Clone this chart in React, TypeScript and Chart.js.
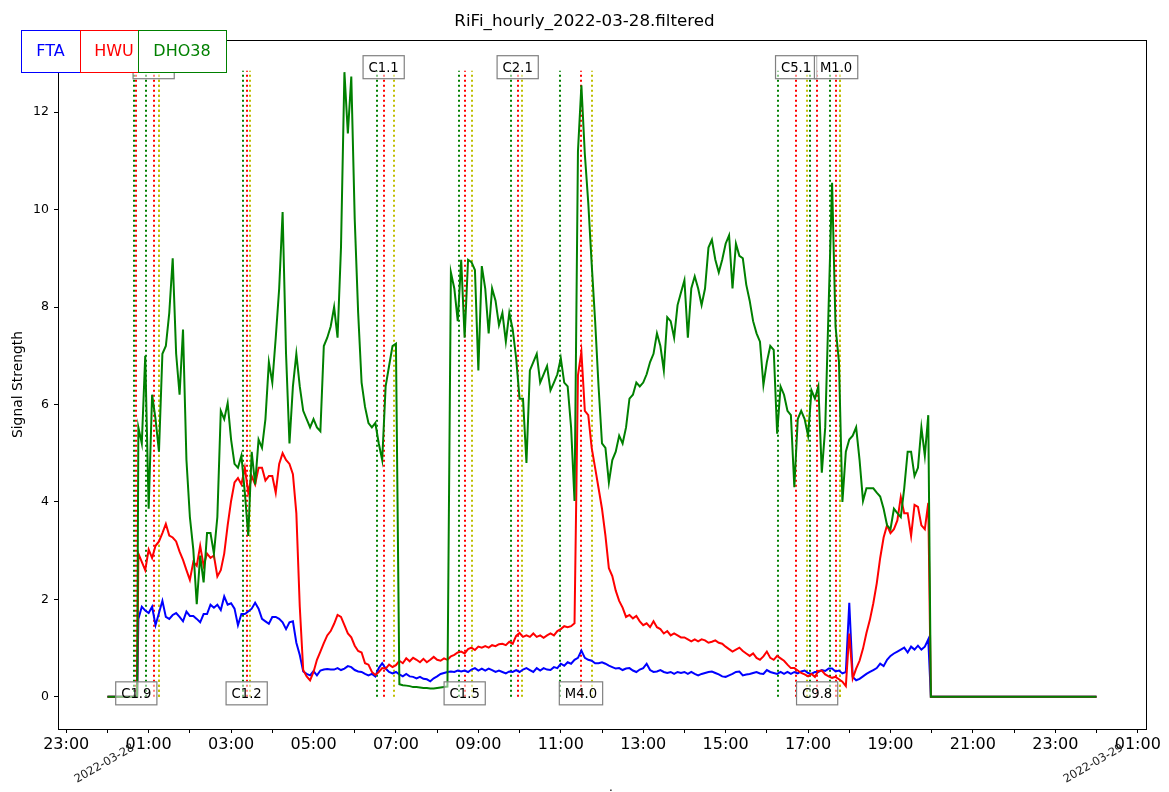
import { useEffect, useRef } from 'react';
import { Chart, registerables } from 'chart.js';

Chart.register(...registerables);

// hours since 2022-03-28 00:00; one reading every 5 minutes from 00:45 to 19:55
const FIRST_READING = 0.75;
const STEP = 5 / 60;
// receivers idle (logged as 0) before the first and after the last reading
const leadIn = [0, 0.72];
const leadOut = [19.98, 24];

const stations = ['DHO38', 'HWU', 'FTA'];
const stationColors = ['#008000', '#ff0000', '#0000ff'];

const dho38 = [
  5.53, 5.2, 7.0, 3.86, 6.2, 5.7, 5.03, 7.04, 7.2, 7.88,
  9.0, 7.04, 6.2, 7.54, 4.86, 3.69, 3.02, 1.9, 2.9, 2.35,
  3.36, 3.36, 2.94, 3.69, 5.87, 5.7, 6.03, 5.28, 4.78, 4.7,
  4.95, 4.19, 3.3, 5.03, 4.36, 5.28, 5.11, 5.7, 6.87, 6.45,
  7.37, 8.38, 9.95, 7.04, 5.2, 6.37, 7.04, 6.37, 5.87, 5.7,
  5.53, 5.7, 5.53, 5.45, 7.2, 7.37, 7.6, 8.0, 7.37, 9.22,
  12.82, 11.56, 12.73, 9.8, 7.88, 6.45, 5.95, 5.62, 5.53, 5.62,
  5.2, 4.86, 6.37, 6.79, 7.2, 7.25, 0.26, 0.24, 0.23, 0.22,
  0.2, 0.2, 0.19, 0.18, 0.18, 0.17, 0.17, 0.18, 0.19, 0.2,
  0.21, 8.71, 8.38, 7.71, 8.97, 7.37, 8.97, 8.92, 8.76, 6.7,
  8.84, 8.38, 7.46, 8.38, 8.13, 7.63, 7.88, 7.29, 7.88, 7.54,
  6.95, 6.12, 6.12, 4.8, 6.7, 6.87, 7.04, 6.45, 6.62, 6.79,
  6.29, 6.45, 6.62, 6.95, 6.45, 6.37, 5.53, 4.02, 11.2, 12.55,
  11.14, 10.14, 8.88, 7.71, 6.37, 5.2, 5.11, 4.4, 4.86, 5.03,
  5.36, 5.2, 5.53, 6.12, 6.2, 6.45, 6.37, 6.45, 6.62, 6.87,
  7.04, 7.46, 7.2, 6.7, 7.79, 7.71, 7.37, 8.04, 8.3, 8.55,
  7.37, 8.38, 8.63, 8.38, 8.04, 8.38, 9.22, 9.38, 8.97, 8.71,
  8.97, 9.3, 9.47, 8.38, 9.3, 9.05, 9.0, 8.46, 8.13, 7.71,
  7.46, 7.29, 6.4, 6.87, 7.2, 7.12, 5.4, 6.37, 6.2, 5.87,
  5.78, 4.3, 5.7, 5.87, 5.7, 5.36, 6.29, 6.12, 6.37, 4.6,
  5.53, 8.04, 10.55, 7.6, 6.87, 4.0, 5.03, 5.28, 5.36, 5.53,
  4.86, 4.02, 4.28, 4.28, 4.28, 4.19, 4.11, 3.86, 3.52, 3.44,
  3.86, 3.77, 3.69, 4.28, 5.03, 5.03, 4.53, 4.7, 5.53, 4.95,
  5.78,
];

const hwu = [
  2.94, 2.77, 2.6, 3.02, 2.85, 3.1, 3.19, 3.36, 3.55, 3.31,
  3.27, 3.19, 2.98, 2.81, 2.6, 2.4, 2.77, 2.69, 3.1, 2.69,
  2.94, 2.85, 2.9, 2.47, 2.6, 2.94, 3.52, 4.02, 4.4, 4.49,
  4.36, 4.7, 4.19, 4.53, 4.36, 4.7, 4.7, 4.44, 4.53, 4.53,
  4.19, 4.78, 5.0, 4.86, 4.78, 4.57, 3.77, 1.85, 0.55, 0.42,
  0.34, 0.51, 0.76, 0.93, 1.1, 1.26, 1.35, 1.5, 1.68, 1.64,
  1.47, 1.3, 1.22, 1.05, 0.94, 0.91, 0.69, 0.66, 0.51, 0.45,
  0.51, 0.59, 0.58, 0.66, 0.61, 0.65, 0.74, 0.69, 0.79, 0.73,
  0.8, 0.76, 0.71, 0.78, 0.71, 0.76, 0.82, 0.76, 0.74, 0.79,
  0.76, 0.83, 0.86, 0.91, 0.93, 0.89, 0.98, 1.01, 0.96, 1.03,
  1.01, 1.04, 1.01, 1.06, 1.04, 1.08, 1.09, 1.06, 1.13, 1.09,
  1.25, 1.31, 1.23, 1.26, 1.23, 1.3, 1.23, 1.26, 1.21, 1.26,
  1.3, 1.26, 1.35, 1.39, 1.45, 1.43, 1.45, 1.51, 6.6, 7.08,
  5.87, 5.78, 5.11, 4.7, 4.28, 3.86, 3.31, 2.64, 2.48, 2.18,
  1.97, 1.83, 1.64, 1.68, 1.61, 1.66, 1.55, 1.47, 1.51, 1.43,
  1.55, 1.43, 1.39, 1.3, 1.35, 1.26, 1.3, 1.26, 1.22, 1.22,
  1.18, 1.14, 1.18, 1.14, 1.18, 1.16, 1.11, 1.13, 1.16, 1.11,
  1.09, 1.03, 0.98, 0.93, 0.97, 1.01, 0.94, 0.89, 0.84, 0.89,
  0.8, 0.76, 0.83, 0.93, 0.8, 0.76, 0.84, 0.79, 0.74, 0.66,
  0.59, 0.59, 0.54, 0.49, 0.46, 0.42, 0.47, 0.41, 0.53, 0.54,
  0.46, 0.42, 0.39, 0.41, 0.36, 0.31, 0.22, 1.3, 0.38, 0.58,
  0.74, 0.99, 1.31, 1.58, 1.92, 2.33, 2.85, 3.27, 3.52, 3.36,
  3.44, 3.62, 4.1, 3.77, 3.77, 3.3, 3.94, 3.9, 3.52, 3.44,
  3.98,
];

const fta = [
  1.6, 1.85, 1.77, 1.72, 1.85, 1.47, 1.72, 1.97, 1.64, 1.6,
  1.68, 1.72, 1.64, 1.55, 1.75, 1.66, 1.66, 1.6, 1.53, 1.7,
  1.7, 1.89, 1.83, 1.89, 1.78, 2.06, 1.89, 1.92, 1.81, 1.47,
  1.7, 1.7, 1.75, 1.81, 1.93, 1.81, 1.6, 1.55, 1.5, 1.64,
  1.64, 1.6, 1.53, 1.39, 1.53, 1.55, 1.11, 0.86, 0.52, 0.47,
  0.44, 0.53, 0.44, 0.54, 0.56, 0.57, 0.56, 0.56, 0.59, 0.55,
  0.58, 0.63, 0.61, 0.55, 0.52, 0.51, 0.47, 0.44, 0.47, 0.42,
  0.59, 0.69, 0.58, 0.51, 0.48, 0.51, 0.46, 0.42, 0.47, 0.42,
  0.41, 0.38, 0.41, 0.37, 0.36, 0.32, 0.38, 0.42, 0.47, 0.49,
  0.51, 0.52, 0.51, 0.54, 0.52, 0.54, 0.51, 0.56, 0.59, 0.54,
  0.58, 0.54, 0.58, 0.55, 0.51, 0.54, 0.51, 0.48, 0.52, 0.51,
  0.55, 0.51, 0.56, 0.59, 0.55, 0.51, 0.59, 0.54, 0.59, 0.56,
  0.55, 0.61, 0.59, 0.68, 0.64, 0.71, 0.68, 0.76, 0.8, 0.95,
  0.8, 0.76, 0.74, 0.69, 0.69, 0.71, 0.68, 0.64, 0.61, 0.58,
  0.59, 0.55, 0.58, 0.59, 0.54, 0.51, 0.56, 0.59, 0.68, 0.55,
  0.51, 0.52, 0.55, 0.51, 0.49, 0.51, 0.47, 0.51, 0.49, 0.51,
  0.47, 0.51, 0.47, 0.44, 0.47, 0.49, 0.51, 0.52, 0.49, 0.46,
  0.42, 0.41, 0.44, 0.47, 0.51, 0.52, 0.44, 0.46, 0.47, 0.49,
  0.51, 0.48, 0.47, 0.55, 0.51, 0.49, 0.47, 0.51, 0.47, 0.51,
  0.47, 0.51, 0.48, 0.52, 0.54, 0.49, 0.47, 0.51, 0.51, 0.55,
  0.53, 0.58, 0.58, 0.52, 0.54, 0.48, 0.51, 1.93, 0.41, 0.34,
  0.37, 0.42, 0.47, 0.51, 0.55, 0.59, 0.68, 0.63, 0.76, 0.84,
  0.89, 0.93, 0.97, 1.01, 0.91, 1.03, 0.97, 1.05, 0.97, 1.03,
  1.18,
];

// solar flares (GOES class), times in hours
const flareClass = ['C1.9', 'C1.3', 'C1.2', 'C1.1', 'C1.5', 'C2.1', 'M4.0', 'C5.1', 'C9.8', 'M1.0'];
const flareStart = [0.643, 0.934, 3.281, 6.532, 8.522, 9.784, 10.973, 16.27, 17.05, 17.53];
const flarePeak = [0.7, 1.121, 3.378, 6.702, 8.668, 9.954, 11.49, 16.71, 17.22, 17.68];
const flareEnd = [1.25, 1.25, 3.458, 6.945, 8.838, 10.051, 11.757, 16.98, 17.78, 17.78];
const FLARE_TOP = 12.85;

const yTicks = [0, 2, 4, 6, 8, 10, 12];
const dayLabels = ['2022-03-28', '2022-03-29'];
const dayHours = [0, 24];

const FONT = '"DejaVu Sans", sans-serif';

function toPoints(values: number[]) {
  return [
    ...leadIn.map(x => ({ x, y: 0 })),
    ...values.map((y, i) => ({ x: FIRST_READING + i * STEP, y })),
    ...leadOut.map(x => ({ x, y: 0 })),
  ];
}

function hourLabel(h: number) {
  const hh = ((Math.round(h) % 24) + 24) % 24;
  return String(hh).padStart(2, '0') + ':00';
}

const flarePlugin = {
  id: 'flares',
  beforeDatasetsDraw(chart: any) {
    const { ctx, scales } = chart;
    const x = scales.x, y = scales.y;
    const yBase = y.getPixelForValue(0);
    const yTop = y.getPixelForValue(FLARE_TOP);
    ctx.save();
    ctx.lineWidth = 2;
    ctx.setLineDash([2, 3]);
    flareStart.forEach((start, i) => {
      const marks: [number, string][] = [
        [start, '#008000'],
        [flarePeak[i], '#ff0000'],
        [flareEnd[i], '#bfbf00'],
      ];
      marks.forEach(([t, color]) => {
        const px = Math.round(x.getPixelForValue(t));
        ctx.strokeStyle = color;
        ctx.beginPath();
        ctx.moveTo(px, yBase);
        ctx.lineTo(px, yTop);
        ctx.stroke();
      });
    });
    ctx.restore();
  },
  afterDatasetsDraw(chart: any) {
    const { ctx, scales, chartArea } = chart;
    const x = scales.x, y = scales.y;
    ctx.save();
    // flare class labels, alternating bottom / top
    ctx.font = '13.2px ' + FONT;
    ctx.textAlign = 'center';
    ctx.textBaseline = 'middle';
    flareClass.forEach((label, i) => {
      const cx = x.getPixelForValue(flarePeak[i]);
      const cy = y.getPixelForValue(i % 2 === 0 ? 0 : FLARE_TOP) - 3.5;
      const w = ctx.measureText(label).width + 11;
      const h = 23;
      ctx.fillStyle = 'rgba(255,255,255,0.5)';
      ctx.fillRect(cx - w / 2, cy - h / 2, w, h);
      ctx.strokeStyle = '#808080';
      ctx.lineWidth = 1.2;
      ctx.strokeRect(cx - w / 2, cy - h / 2, w, h);
      ctx.fillStyle = '#000';
      ctx.fillText(label, cx, cy + 1);
    });

    // axes frame
    ctx.strokeStyle = '#000';
    ctx.lineWidth = 1;
    ctx.strokeRect(
      Math.round(chartArea.left) + 0.5,
      Math.round(chartArea.top) + 0.5,
      Math.round(chartArea.right - chartArea.left),
      Math.round(chartArea.bottom - chartArea.top)
    );

    // station legend boxes
    const boxes = [
      { left: 21, width: 59, text: 50.5 },
      { left: 80, width: 68, text: 114 },
      { left: 138, width: 88, text: 182 },
    ];
    const order = [2, 1, 0];
    ctx.font = '16px ' + FONT;
    order.forEach((s, k) => {
      const b = boxes[k];
      ctx.fillStyle = '#fff';
      ctx.fillRect(b.left + 0.5, 30.5, b.width, 42);
      ctx.strokeStyle = stationColors[s];
      ctx.lineWidth = 1;
      ctx.strokeRect(b.left + 0.5, 30.5, b.width, 42);
      ctx.fillStyle = stationColors[s];
      ctx.fillText(stations[s], b.text, 52);
    });
    ctx.restore();
  },
  afterDraw(chart: any) {
    const { ctx, scales, chartArea } = chart;
    const x = scales.x;
    ctx.save();
    ctx.fillStyle = '#000';
    ctx.textAlign = 'center';
    ctx.textBaseline = 'middle';
    ctx.font = '16.7px ' + FONT;
    ctx.fillText('RiFi_hourly_2022-03-28.filtered', 584.5, 22);

    ctx.font = '13.9px ' + FONT;
    ctx.translate(18.5, (chartArea.top + chartArea.bottom) / 2);
    ctx.rotate(-Math.PI / 2);
    ctx.fillText('Signal Strength', 0, 0);
    ctx.setTransform(1, 0, 0, 1, 0, 0);

    ctx.font = '11.5px ' + FONT;
    ctx.fillStyle = '#222';
    ctx.textAlign = 'right';
    ctx.textBaseline = 'top';
    dayLabels.forEach((label, i) => {
      const px = x.getPixelForValue(dayHours[i]);
      ctx.save();
      ctx.translate(px + 23, chartArea.bottom + 13);
      ctx.rotate(-Math.PI / 6);
      ctx.fillText(label, 0, 0);
      ctx.restore();
    });

    ctx.fillStyle = '#000';
    ctx.textAlign = 'center';
    ctx.textBaseline = 'alphabetic';
    ctx.font = '12px ' + FONT;
    ctx.fillText('.', 611, 791);
    ctx.restore();
  },
};

export default function App() {
  const chartRef = useRef<HTMLCanvasElement>(null);
  const chartInstance = useRef<Chart | null>(null);

  useEffect(() => {
    if (!chartRef.current) return;

    if (chartInstance.current) {
      chartInstance.current.destroy();
    }

    const ctx = chartRef.current.getContext('2d');
    if (!ctx) return;

    const series = [dho38, hwu, fta];

    chartInstance.current = new Chart(ctx, {
      type: 'line',
      data: {
        datasets: series.map((values, i) => ({
          label: stations[i],
          data: toPoints(values),
          borderColor: stationColors[i],
          backgroundColor: stationColors[i],
          borderWidth: 2,
          pointRadius: 0,
          tension: 0,
          fill: false,
        })),
      },
      options: {
        animation: false,
        responsive: true,
        maintainAspectRatio: false,
        layout: {
          padding: { left: 0, right: 23, top: 40, bottom: 0 },
        },
        plugins: {
          legend: { display: false },
          title: { display: false },
          tooltip: { enabled: false },
        },
        scales: {
          x: {
            type: 'linear',
            min: -1.2,
            max: 25.2,
            border: { display: false },
            grid: {
              drawOnChartArea: false,
              drawTicks: true,
              tickLength: 4,
              tickColor: '#000',
            },
            ticks: {
              stepSize: 1,
              includeBounds: false,
              autoSkip: false,
              maxRotation: 0,
              padding: 2,
              color: '#000',
              font: { family: FONT, size: 16 },
              callback: (v: any) => {
                const h = Number(v);
                return Math.abs(h % 2) === 1 ? hourLabel(h) : '';
              },
            },
            afterFit: (scale: any) => {
              scale.height = 63;
              scale.paddingLeft = 0;
              scale.paddingRight = 0;
            },
          },
          y: {
            min: -0.66,
            max: 13.48,
            border: { display: false },
            grid: {
              drawOnChartArea: false,
              drawTicks: true,
              tickLength: 4,
              tickColor: '#000',
            },
            afterBuildTicks: (scale: any) => {
              scale.ticks = yTicks.map(value => ({ value }));
            },
            ticks: {
              padding: 5,
              color: '#000',
              font: { family: FONT, size: 12.5 },
            },
            afterFit: (scale: any) => {
              scale.width = 58;
              scale.paddingTop = 0;
              scale.paddingBottom = 0;
            },
          },
        },
      },
      plugins: [flarePlugin],
    });

    return () => {
      if (chartInstance.current) {
        chartInstance.current.destroy();
        chartInstance.current = null;
      }
    };
  }, []);

  return (
    <div style={{ position: 'absolute', left: 0, top: 0, width: 1169, height: 792, background: '#fff' }}>
      <canvas ref={chartRef} />
    </div>
  );
}
